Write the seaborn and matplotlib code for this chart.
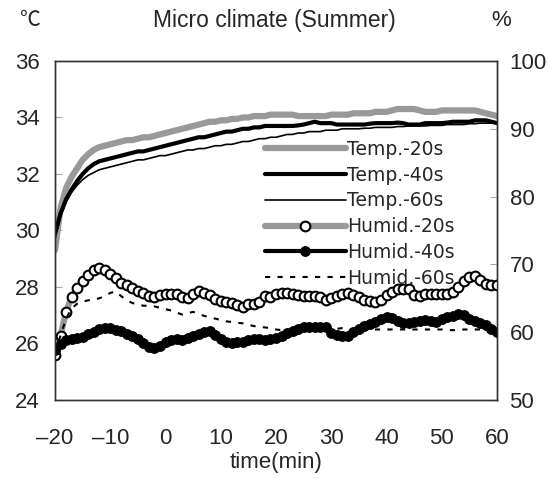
import matplotlib
matplotlib.use("Agg")
import matplotlib.pyplot as plt
import numpy as np
import seaborn as sns

# time axis (min), one sample per minute
time_min = list(range(-20, 61))

temp_20s = [29.3, 30.8, 31.5, 31.9, 32.2, 32.5, 32.7, 32.85, 32.95, 33.0,
            33.05, 33.1, 33.15, 33.2, 33.2, 33.25, 33.3, 33.3, 33.35, 33.4,
            33.45, 33.5, 33.55, 33.6, 33.65, 33.7, 33.75, 33.8, 33.85, 33.85,
            33.9, 33.9, 33.95, 33.95, 34.0, 34.0, 34.05, 34.05, 34.05, 34.1,
            34.1, 34.1, 34.1, 34.1, 34.05, 34.05, 34.05, 34.05, 34.05, 34.05,
            34.1, 34.1, 34.1, 34.1, 34.15, 34.15, 34.15, 34.15, 34.2, 34.2,
            34.2, 34.25, 34.3, 34.3, 34.3, 34.3, 34.25, 34.2, 34.2, 34.2,
            34.25, 34.25, 34.25, 34.25, 34.25, 34.25, 34.25, 34.2, 34.15, 34.1,
            34.05]
temp_40s = [29.9, 30.6, 31.1, 31.45, 31.75, 32.0, 32.2, 32.35, 32.45, 32.5,
            32.55, 32.6, 32.65, 32.7, 32.75, 32.8, 32.8, 32.85, 32.9, 32.95,
            33.0, 33.05, 33.1, 33.15, 33.2, 33.25, 33.3, 33.3, 33.35, 33.4,
            33.45, 33.5, 33.5, 33.55, 33.6, 33.6, 33.65, 33.65, 33.7, 33.7,
            33.7, 33.7, 33.7, 33.7, 33.72, 33.75, 33.8, 33.85, 33.8, 33.8,
            33.8, 33.75, 33.75, 33.75, 33.75, 33.75, 33.75, 33.78, 33.8, 33.8,
            33.8, 33.8, 33.82, 33.8, 33.75, 33.75, 33.75, 33.8, 33.8, 33.8,
            33.8, 33.82, 33.85, 33.85, 33.85, 33.85, 33.9, 33.9, 33.9, 33.85,
            33.8]
temp_60s = [29.7, 30.5, 31.0, 31.35, 31.6, 31.8, 31.95, 32.05, 32.15, 32.2,
            32.25, 32.3, 32.35, 32.4, 32.45, 32.5, 32.5, 32.55, 32.6, 32.65,
            32.65, 32.7, 32.75, 32.8, 32.85, 32.85, 32.9, 32.9, 32.95, 33.0,
            33.0, 33.05, 33.05, 33.1, 33.15, 33.15, 33.2, 33.25, 33.25, 33.3,
            33.3, 33.35, 33.4, 33.4, 33.45, 33.45, 33.5, 33.5, 33.5, 33.55,
            33.55, 33.55, 33.6, 33.6, 33.6, 33.6, 33.62, 33.62, 33.65, 33.65,
            33.65, 33.65, 33.68, 33.68, 33.7, 33.7, 33.7, 33.7, 33.72, 33.72,
            33.72, 33.75, 33.75, 33.75, 33.75, 33.78, 33.78, 33.8, 33.8, 33.8,
            33.8]

humid_20s = [56.6, 59.5, 63.0, 65.2, 66.5, 67.6, 68.5, 69.1, 69.4, 69.2,
             68.6, 68.0, 67.3, 66.9, 66.5, 66.1, 65.8, 65.4, 65.2, 65.5,
             65.7, 65.7, 65.6, 65.2, 65.1, 65.6, 66.1, 65.8, 65.5, 64.9,
             64.6, 64.5, 64.3, 64.0, 63.7, 64.1, 64.2, 64.5, 65.3, 65.2,
             65.6, 65.8, 65.8, 65.7, 65.5, 65.4, 65.4, 65.4, 65.2, 64.8,
             65.0, 65.3, 65.7, 65.8, 65.5, 65.2, 64.8, 64.6, 64.4, 64.8,
             65.5, 66.0, 66.3, 66.3, 66.3, 65.5, 65.4, 65.6, 65.7, 65.7,
             65.7, 65.7, 66.0, 66.7, 67.5, 68.2, 68.3, 67.7, 67.1, 67.0,
             67.0]
humid_40s = [57.4, 58.3, 58.8, 59.0, 59.1, 59.3, 59.7, 60.1, 60.4, 60.6,
             60.6, 60.3, 60.2, 59.8, 59.5, 59.0, 58.4, 57.8, 57.7, 58.0,
             58.5, 58.9, 59.0, 58.9, 59.2, 59.4, 59.7, 60.1, 60.2, 59.6,
             59.0, 58.6, 58.4, 58.5, 58.6, 58.8, 59.0, 59.0, 58.8, 59.0,
             59.2, 59.5, 59.9, 60.2, 60.4, 60.7, 60.8, 60.8, 60.8, 60.7,
             59.9, 59.6, 59.4, 59.5, 60.1, 60.5, 60.9, 61.2, 61.5, 61.9,
             62.3, 62.1, 61.6, 61.3, 61.4, 61.5, 61.6, 61.8, 61.7, 61.5,
             61.9, 62.2, 62.4, 62.7, 62.5, 62.0, 61.6, 61.3, 61.0, 60.5,
             60.1]
humid_60s = [57.0, 59.5, 62.0, 63.5, 64.2, 64.5, 64.7, 64.8, 65.0, 65.3,
             65.8, 66.0, 65.3, 64.7, 64.3, 64.1, 63.9, 63.9, 63.8, 63.6,
             63.4, 63.2, 62.9, 62.6, 62.8, 63.0, 62.7, 62.4, 62.2, 62.0,
             61.8, 61.6, 61.5, 61.4, 61.3, 61.1, 60.9, 60.8, 60.7, 60.6,
             60.4, 60.3, 60.3, 60.3, 60.3, 60.3, 60.3, 60.3, 60.3, 60.3,
             60.4, 60.5, 60.6, 60.5, 60.4, 60.4, 60.4, 60.4, 60.4, 60.4,
             60.4, 60.4, 60.4, 60.4, 60.4, 60.4, 60.4, 60.4, 60.4, 60.4,
             60.4, 60.3, 60.3, 60.3, 60.4, 60.4, 60.4, 60.4, 60.4, 60.4,
             60.4]

x_ticks = [-20, -10, 0, 10, 20, 30, 40, 50, 60]
temp_ticks = [24, 26, 28, 30, 32, 34, 36]
humid_ticks = [50, 60, 70, 80, 90, 100]

sns.set_style("white")
plt.rcParams["font.family"] = ["Liberation Sans", "Noto Sans CJK KR", "DejaVu Sans"]

fig = plt.figure(figsize=(5.49, 4.78), dpi=100)
ax = fig.add_axes([0.1002, 0.1632, 0.8051, 0.7092])
ax2 = ax.twinx()

sns.lineplot(x=time_min, y=temp_20s, ax=ax, color="#999999", lw=4.5,
             label="Temp.-20s", legend=False)
sns.lineplot(x=time_min, y=temp_40s, ax=ax, color="black", lw=3,
             label="Temp.-40s", legend=False)
sns.lineplot(x=time_min, y=temp_60s, ax=ax, color="black", lw=1.2,
             label="Temp.-60s", legend=False)

sns.lineplot(x=time_min, y=humid_20s, ax=ax2, color="#999999", lw=4.5,
             marker="o", markersize=7, markerfacecolor="white",
             markeredgecolor="black", markeredgewidth=1.5,
             label="Humid.-20s", legend=False)
sns.lineplot(x=time_min, y=humid_40s, ax=ax2, color="black", lw=3,
             marker="o", markersize=7, markerfacecolor="black",
             markeredgecolor="black", label="Humid.-40s", legend=False)
sns.lineplot(x=time_min, y=humid_60s, ax=ax2, color="black", lw=1.5,
             dashes=(2.5, 3.5), label="Humid.-60s", legend=False)

ax.set_xlim(-20, 60)
ax.set_ylim(24, 36)
ax2.set_ylim(50, 100)
ax.set_xticks(x_ticks)
ax.set_xticklabels([str(v).replace("-", "\u2013") for v in x_ticks])
ax.set_yticks(temp_ticks)
ax2.set_yticks(humid_ticks)

ax.tick_params(axis="x", direction="in", length=5, width=0.8, color="#555555",
               labelsize=16, pad=20)
ax.tick_params(axis="y", direction="in", length=5, width=0.8, color="#aaaaaa",
               labelsize=16, pad=11)
ax2.tick_params(axis="y", direction="in", length=5, width=0.8, color="#aaaaaa",
                labelsize=16, pad=9)
for a in (ax, ax2):
    for s in a.spines.values():
        s.set_color("#333333")
        s.set_linewidth(1)

ax.set_xlabel("time(min)", fontsize=16, labelpad=2)
ax.set_ylabel("")
ax2.set_ylabel("")

fig.text(0.5, 0.958, "Micro climate (Summer)", ha="center", va="center", fontsize=16.5)
fig.text(0.055, 0.958, "\u2103", ha="center", va="center", fontsize=15)
fig.text(0.912, 0.958, "%", ha="center", va="center", fontsize=16)

h1, l1 = ax.get_legend_handles_labels()
h2, l2 = ax2.get_legend_handles_labels()
leg = ax2.legend(h1 + h2, l1 + l2, loc="upper left", bbox_to_anchor=(0.475, 0.767),
                 frameon=False, handlelength=4.3, handletextpad=0.1,
                 labelspacing=0.36, borderaxespad=0, borderpad=0,
                 prop={"family": "DejaVu Sans", "size": 13.5})
for lh in leg.legend_handles:
    if hasattr(lh, "set_markevery"):
        lh.set_markevery([1])

fig.savefig("out.png", dpi=100)
